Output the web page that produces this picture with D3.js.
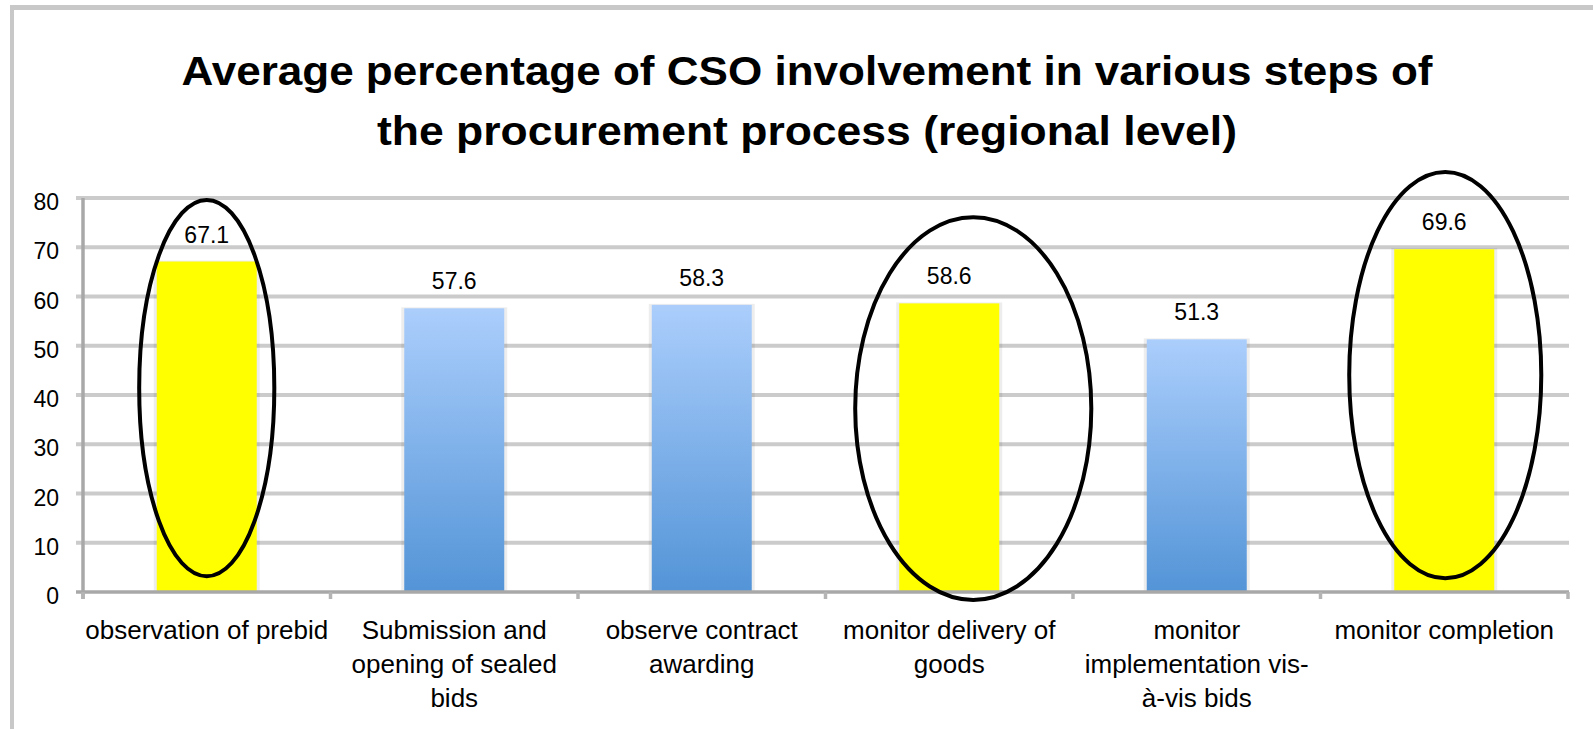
<!DOCTYPE html>
<html>
<head>
<meta charset="utf-8">
<script src="https://cdn.jsdelivr.net/npm/d3@7"></script>
<style>
    body { margin: 0; background: #fff; }
    text { font-family: "Liberation Sans", Arial, sans-serif; fill: #000; }
</style>
</head>
<body>
<script>
// chart of cso involvement, d3 version

(function(){

//chart data
var categories = ["observation of prebid", "Submission and opening of sealed bids", "observe contract awarding", "monitor delivery of goods", "monitor implementation vis-à-vis bids", "monitor completion"];
var labelLines = [["observation of prebid"], ["Submission and", "opening of sealed", "bids"], ["observe contract", "awarding"], ["monitor delivery of", "goods"], ["monitor", "implementation vis-", "à-vis bids"], ["monitor completion"]];
var values = [67.1, 57.6, 58.3, 58.6, 51.3, 69.6];
var highlighted = [true, false, false, true, false, true];
var yTicks = [0, 10, 20, 30, 40, 50, 60, 70, 80];
var titleLines = ["Average percentage of CSO involvement in various steps of", "the procurement process (regional level)"];

//hand drawn circles round the highlighted bars (category index, top and bottom in data units)
var circledCats = [0, 3, 5];
var circleTops = [79.6, 76.1, 85.3];
var circleBottoms = [3.2, -1.6, 2.8];

window.onload = setChart();

function setChart(){
    var width = 1593,
        height = 729;

    var svg = d3.select("body")
        .append("svg")
        .attr("width", width)
        .attr("height", height);

    //outer frame of the pasted chart
    svg.append("line")
        .attr("x1", 11).attr("x2", width)
        .attr("y1", 7.5).attr("y2", 7.5)
        .attr("stroke", "#c8c8c8").attr("stroke-width", 5);
    svg.append("line")
        .attr("x1", 12).attr("x2", 12)
        .attr("y1", 5).attr("y2", height)
        .attr("stroke", "#c8c8c8").attr("stroke-width", 4);

    //scales
    var x = d3.scaleBand()
        .domain(categories)
        .range([83, 1568])
        .paddingInner(0.596)
        .paddingOuter(0.298);

    var y = d3.scaleLinear()
        .domain([0, 80])
        .range([592, 198]);

    //gradient for the blue bars
    var grad = svg.append("defs").append("linearGradient")
        .attr("id", "blueGrad")
        .attr("x1", 0).attr("y1", 0).attr("x2", 0).attr("y2", 1);
    grad.append("stop").attr("offset", "0%").attr("stop-color", "#abcefc");
    grad.append("stop").attr("offset", "100%").attr("stop-color", "#5394d7");

    //gridlines
    svg.append("g")
        .selectAll("line")
        .data(yTicks.slice(1))
        .enter()
        .append("line")
        .attr("x1", 76).attr("x2", 1569)
        .attr("y1", function(d){ return y(d); })
        .attr("y2", function(d){ return y(d); })
        .attr("stroke", "#cbcbcb")
        .attr("stroke-width", 4);

    //y axis labels
    var yAxis = svg.append("g")
        .attr("transform", "translate(83,0)")
        .call(d3.axisLeft(y).tickValues(yTicks).tickSize(0).tickPadding(24));
    yAxis.select(".domain").remove();
    yAxis.selectAll("text")
        .style("font-family", "Liberation Sans, Arial, sans-serif")
        .style("font-size", "23px")
        .attr("dy", "0.5em")
        .attr("fill", "#000");

    //bar shadows
    svg.append("g")
        .selectAll("rect")
        .data(values)
        .enter()
        .append("rect")
        .attr("x", function(d, i){ return x(categories[i]) - 3; })
        .attr("y", function(d){ return y(d) - 1; })
        .attr("width", x.bandwidth() + 6)
        .attr("height", function(d){ return y(0) - y(d) + 1; })
        .attr("fill", "#000")
        .attr("opacity", 0.07);

    //bars
    svg.append("g")
        .selectAll("rect")
        .data(values)
        .enter()
        .append("rect")
        .attr("x", function(d, i){ return x(categories[i]); })
        .attr("y", function(d){ return y(d); })
        .attr("width", x.bandwidth())
        .attr("height", function(d){ return y(0) - y(d); })
        .attr("fill", function(d, i){ return highlighted[i] ? "#ffff00" : "url(#blueGrad)"; });

    //value labels
    svg.append("g")
        .selectAll("text")
        .data(values)
        .enter()
        .append("text")
        .attr("x", function(d, i){ return x(categories[i]) + x.bandwidth() / 2; })
        .attr("y", function(d){ return y(d) - 19; })
        .attr("text-anchor", "middle")
        .style("font-size", "23px")
        .text(function(d){ return d.toFixed(1); });

    //y axis line and x axis line
    svg.append("line")
        .attr("x1", 83).attr("x2", 83)
        .attr("y1", y(80)).attr("y2", y(0) + 7)
        .attr("stroke", "#a8a8a8").attr("stroke-width", 3.5);
    svg.append("line")
        .attr("x1", 76).attr("x2", 1569)
        .attr("y1", y(0)).attr("y2", y(0))
        .attr("stroke", "#a8a8a8").attr("stroke-width", 3.5);

    //category boundary ticks
    var step = x.step();
    svg.append("g")
        .selectAll("line")
        .data(d3.range(categories.length + 1))
        .enter()
        .append("line")
        .attr("x1", function(i){ return 83 + i * step; })
        .attr("x2", function(i){ return 83 + i * step; })
        .attr("y1", y(0))
        .attr("y2", y(0) + 7)
        .attr("stroke", "#b4b4b4")
        .attr("stroke-width", 3.5);

    //category labels (wrapped like excel does)
    var catLabels = svg.append("g")
        .selectAll("text")
        .data(categories)
        .enter()
        .append("text")
        .attr("text-anchor", "middle")
        .style("font-size", "26px");
    catLabels.each(function(d, i){
        var cx = x(d) + x.bandwidth() / 2;
        d3.select(this).selectAll("tspan")
            .data(labelLines[i])
            .enter()
            .append("tspan")
            .attr("x", cx)
            .attr("y", function(l, j){ return y(0) + 47 + j * 34; })
            .text(function(l){ return l; });
    });

    //circles drawn over the chart
    svg.append("g")
        .selectAll("ellipse")
        .data(circledCats)
        .enter()
        .append("ellipse")
        .attr("cx", function(c, i){ return x(categories[c]) + x.bandwidth() / 2 + [0, 24, 1][i]; })
        .attr("cy", function(c, i){ return (y(circleTops[i]) + y(circleBottoms[i])) / 2; })
        .attr("rx", function(c, i){ return step * [0.273, 0.477, 0.388][i]; })
        .attr("ry", function(c, i){ return (y(circleBottoms[i]) - y(circleTops[i])) / 2; })
        .attr("fill", "none")
        .attr("stroke", "#000")
        .attr("stroke-width", 4);

    //title
    svg.append("g")
        .selectAll("text")
        .data(titleLines)
        .enter()
        .append("text")
        .attr("x", 807)
        .attr("y", function(d, i){ return 85 + i * 60; })
        .attr("text-anchor", "middle")
        .attr("textLength", function(d, i){ return [1251, 860][i]; })
        .attr("lengthAdjust", "spacingAndGlyphs")
        .style("font-size", "41px")
        .style("font-weight", "bold")
        .text(function(d){ return d; });
};

})();
</script>
</body>
</html>
